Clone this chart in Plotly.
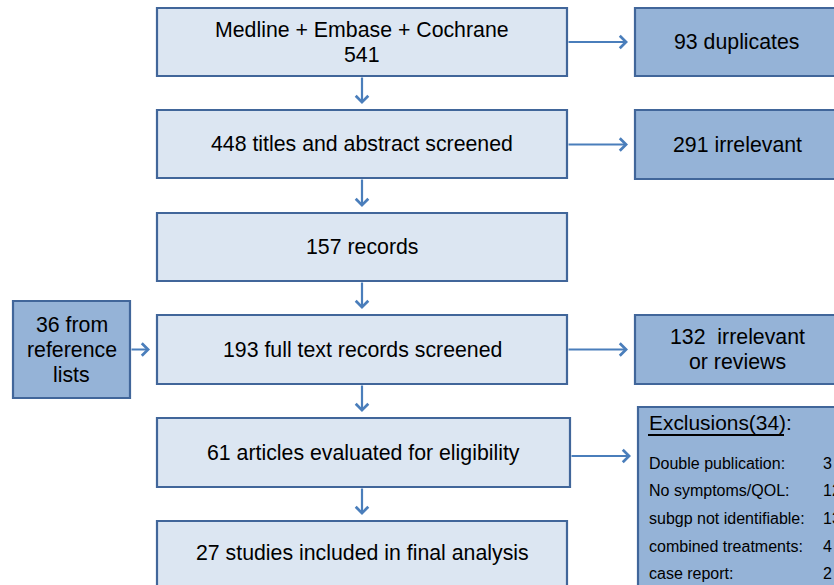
import plotly.graph_objects as go

# ---- data (texts / counts) ----
main_labels = [
    "Medline + Embase + Cochrane<br>541",
    "448 titles and abstract screened",
    "157 records",
    "193 full text records screened",
    "61 articles evaluated for eligibility",
    "27 studies included in final analysis",
]
side_labels = ["93 duplicates", "291 irrelevant", "132  irrelevant<br>or reviews"]
left_label = "36 from<br>reference<br>lists"
excl_title = "Exclusions(34):"
excl_reasons = ["Double publication:", "No symptoms/QOL:", "subgp not identifiable:",
                "combined treatments:", "case report:"]
excl_counts = ["3", "12", "13", "4", "2"]

# ---- layout geometry (pixel space of the page) ----
W, H = 834, 585
main_x = [(157, 567), (157, 567), (157, 567), (157, 567), (157, 570), (157, 567)]
main_y = [(8, 76), (110, 178), (213, 281), (315, 384), (418, 487), (521, 600)]
side_x = (635, 850)
side_y = [(8, 76), (110, 179), (315, 384)]
side_src = [0, 1, 3]
left_box = (13, 130, 301, 398)
excl_box = (638, 850, 407, 600)
excl_row_y = [463, 490, 518, 546, 573]
LINE_GAP = 25

LIGHT = "#DCE6F2"
DARK = "#95B3D7"
EDGE = "#41669A"
ARROW = "#4A7EBB"
FONT = "Liberation Sans, Arial, sans-serif"

fig = go.Figure()
shapes = []
annotations = []


def box(x0, x1, y0, y1, fill):
    shapes.append(dict(type="rect", xref="x", yref="y", x0=x0, x1=x1, y0=y0, y1=y1,
                       fillcolor=fill, line=dict(color=EDGE, width=2.2), layer="below"))


def text(x, y, t, size=21.3, xanchor="center"):
    lines = t.split("<br>")
    n = len(lines)
    for k, ln in enumerate(lines):
        yy = y + (k - (n - 1) / 2) * LINE_GAP
        annotations.append(dict(x=x, y=yy, xref="x", yref="y", text=ln, showarrow=False,
                                xanchor=xanchor, yanchor="middle",
                                font=dict(family=FONT, size=size, color="#000000")))


def arrow(x0, y0, x1, y1):
    annotations.append(dict(x=x1, y=y1, ax=x0, ay=y0, xref="x", yref="y",
                            axref="x", ayref="y", text="", showarrow=True,
                            arrowhead=4, arrowsize=1.1, arrowwidth=2.2,
                            arrowcolor=ARROW, standoff=0, startstandoff=0))


for lab, (x0, x1), (y0, y1) in zip(main_labels, main_x, main_y):
    box(x0, x1, y0, y1, LIGHT)
    cy = (y0 + y1) / 2 if y1 < H else 553
    text((x0 + x1) / 2, cy, lab)

for i in range(len(main_labels) - 1):
    arrow(362, main_y[i][1], 362, main_y[i + 1][0] - 6)

for lab, (y0, y1), src in zip(side_labels, side_y, side_src):
    box(side_x[0], side_x[1], y0, y1, DARK)
    ym = (y0 + y1) / 2
    text(737, ym, lab)
    arrow(main_x[src][1], ym, side_x[0] - 7, ym)

# left box
lx0, lx1, ly0, ly1 = left_box
box(lx0, lx1, ly0, ly1, DARK)
text((lx0 + lx1) / 2, (ly0 + ly1) / 2, left_label)
arrow(lx1, 349.5, main_x[3][0] - 7, 349.5)

# exclusions box
ex0, ex1, ey0, ey1 = excl_box
box(ex0, ex1, ey0, ey1, DARK)
arrow(main_x[4][1], 456, ex0 - 7, 456)
text(647, 422, excl_title, size=20.9, xanchor="left")
shapes.append(dict(type="line", xref="x", yref="y", x0=648, x1=784, y0=435, y1=435,
                   line=dict(color="#000000", width=2)))
for r, c, y in zip(excl_reasons, excl_counts, excl_row_y):
    text(647, y, r, size=16, xanchor="left")
    text(821, y, c, size=16, xanchor="left")

fig.update_layout(
    width=W, height=H,
    margin=dict(l=0, r=0, t=0, b=0),
    paper_bgcolor="white", plot_bgcolor="white",
    xaxis=dict(range=[0, W], visible=False, fixedrange=True),
    yaxis=dict(range=[H, 0], visible=False, fixedrange=True),
    shapes=shapes, annotations=annotations, showlegend=False,
)
fig.write_html(
    "out.html",
    config={"displayModeBar": False},
    post_script="document.documentElement.style.overflow='hidden';"
                "document.body.style.margin='0';document.body.style.overflow='hidden';",
)
